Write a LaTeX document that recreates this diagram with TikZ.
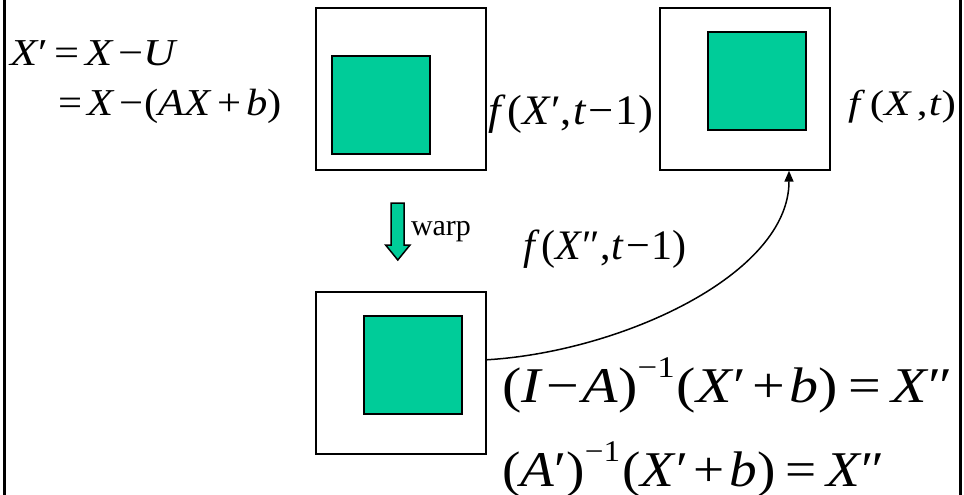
\documentclass[tikz,border=0pt]{standalone}
\usepackage{fontspec}
\setmainfont{Liberation Serif}
\usepackage{graphicx}
\usetikzlibrary{arrows.meta,calc}
\definecolor{boxgreen}{RGB}{0,204,153}
\newlength\fitlen
\newcommand\fitw[2]{\settowidth{\fitlen}{#2}\pgfmathsetmacro\fitr{#1/\fitlen}\scalebox{\fitr}[1]{#2}}
\newcommand\supm[1]{\raisebox{25pt}{\fontsize{30}{30}\selectfont #1}}
\newcommand\hs[1]{\hspace{#1pt}}
\begin{document}
\begin{tikzpicture}[x=1pt,y=-1pt,
  frame/.style={draw,line width=2pt,minimum width=170pt,minimum height=162pt,inner sep=0,fill=white},
  greenbox/.style={draw,line width=2pt,fill=boxgreen,minimum size=98pt,inner sep=0},
  eq/.style={anchor=base west,inner sep=0,outer sep=0},
  border/.style={line width=3pt},
  link/.style={line width=1.5pt,-{Triangle[width=9pt,length=11pt]}}]
\useasboundingbox (0,0) rectangle (964,495);
% side lines
\coordinate (lt) at (4.3,0); \coordinate (lb) at (4.3,495);
\coordinate (rt) at (960.3,0); \coordinate (rb) at (960.3,495);
\draw[border] (lt) -- (lb);
\draw[border] (rt) -- (rb);
% boxes
\node[frame] (b1) at (400.5,89) {};
\node[greenbox] (g1) at (380.9,105) {};
\node[frame] (b2) at (745,88.7) {};
\node[greenbox] (g2) at (756.9,81) {};
\node[frame] (b3) at (400.5,372.8) {};
\node[greenbox] (g3) at (412.9,364.9) {};
% warp arrow
\draw[line width=1.5pt,fill=boxgreen,line join=miter] (391,203) -- (404,203) -- (404,245) -- (410,245) -- (397.8,260) -- (385.6,245) -- (391,245) -- cycle;
\node[eq] (warp) at (411,235) {\fontsize{30}{30}\selectfont warp};
% equations
\node[eq] (e1) at (10,66) {\fitw{168}{\fontsize{38}{38}\selectfont\textit{X}′\hs{5}=\hs{5}\textit{X}\hs{4}−\textit{U}}};
\node[eq] (e2) at (58,115) {\fitw{224}{\fontsize{38}{38}\selectfont =\hs{5}\textit{X}\hs{4}−\hs{1}(\textit{AX}\hs{5}+\hs{4}\textit{b})}};
\node[eq] (f1) at (488,124) {\fitw{165}{\fontsize{42}{42}\selectfont\textit{f}\hs{2}(\textit{X}′,\hs{1}\textit{t}\hs{2}−\hs{2}1)}};
\node[eq] (f2) at (848,115) {\fitw{108}{\fontsize{36}{36}\selectfont\textit{f}\hs{4}(\textit{X}\hs{4},\hs{1}\textit{t})}};
\node[eq] (f3) at (523,259) {\fitw{164}{\fontsize{42}{42}\selectfont\textit{f}\hs{2}(\textit{X}″,\hs{1}\textit{t}\hs{2}−\hs{2}1)}};
\node[eq] (q1) at (502,402) {\fitw{451}{\fontsize{50}{50}\selectfont(\textit{I}\hs{3}−\hs{3}\textit{A})\supm{−1}\hs{2}(\textit{X}′\hs{5}+\hs{4}\textit{b})\hs{9}=\hs{9}\textit{X}″}};
\node[eq] (q2) at (502,486) {\fitw{383}{\fontsize{50}{50}\selectfont(\textit{A}′)\supm{−1}\hs{2}(\textit{X}′\hs{5}+\hs{4}\textit{b})\hs{9}=\hs{9}\textit{X}″}};
% connector
\coordinate (s) at ($(b3.east)+(0,-13)$);
\coordinate (t) at ($(b2.south)+(44,0)$);
\draw[link] (s) .. controls (620,352) and (789,275) .. (t);
\end{tikzpicture}
\end{document}
